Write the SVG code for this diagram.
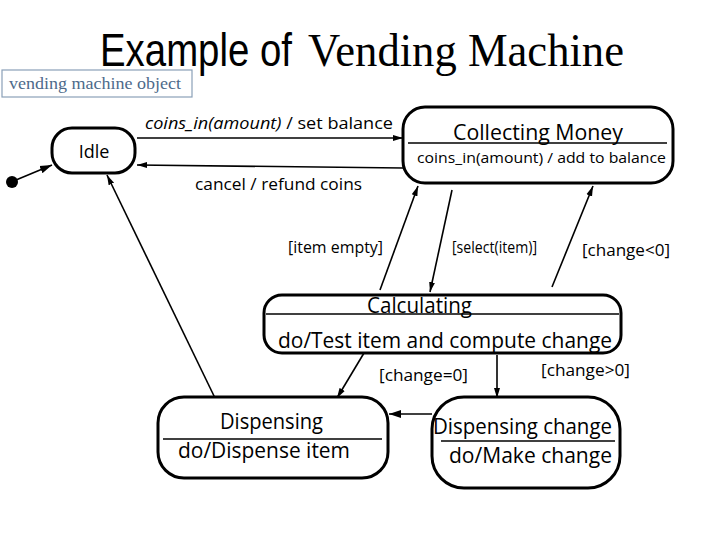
<svg xmlns="http://www.w3.org/2000/svg" width="720" height="540" viewBox="0 0 720 540">
<style>
.st{fill:#fff;stroke:#000;stroke-width:3}
.sep{stroke:#000;stroke-width:1.5}
.t{font-family:"Open Sans","Liberation Sans",sans-serif;fill:#000}
.c{stroke:#000;stroke-width:1.6;fill:none}
</style>
<defs>
<marker id="ah" markerUnits="userSpaceOnUse" markerWidth="14" markerHeight="10" refX="12" refY="5" orient="auto"><path d="M0,1 L12,5 L0,9 Z" fill="#000"/></marker>
<marker id="ahs" markerUnits="userSpaceOnUse" markerWidth="12" markerHeight="8" refX="10" refY="4" orient="auto"><path d="M0,1 L10,4 L0,7 Z" fill="#000"/></marker>
</defs>
<rect width="720" height="540" fill="#fff"/>
<text x="100" y="66" font-size="46" font-family="'Liberation Sans Narrow','Liberation Sans',sans-serif" textLength="192" lengthAdjust="spacingAndGlyphs">Example of</text>
<text x="308" y="66" font-size="46" font-family="'Liberation Serif',serif" textLength="316" lengthAdjust="spacingAndGlyphs">Vending Machine</text>
<g id="object-label">
<rect x="2" y="70" width="190" height="27" fill="#fff" stroke="#8aa0b8" stroke-width="1.2"/>
<text x="9" y="89" font-size="17" font-family="'Liberation Serif',serif" fill="#4d6a8a" textLength="172" lengthAdjust="spacingAndGlyphs">vending machine object</text>
</g>
<g id="connectors">
<line class="c" x1="16" y1="180" x2="52" y2="165" stroke-width="3" marker-end="url(#ah)"/>
<line class="c" x1="137" y1="138" x2="403" y2="138" marker-end="url(#ahs)"/>
<line class="c" x1="403" y1="168" x2="137" y2="165" marker-end="url(#ahs)"/>
<line class="c" x1="380" y1="290" x2="418" y2="186" marker-end="url(#ahs)"/>
<line class="c" x1="452" y1="190" x2="430" y2="292" marker-end="url(#ahs)"/>
<line class="c" x1="552" y1="287" x2="593" y2="186" marker-end="url(#ahs)"/>
<line class="c" x1="367" y1="348" x2="337" y2="398" marker-end="url(#ahs)"/>
<line class="c" x1="497" y1="355" x2="497" y2="398" marker-end="url(#ahs)"/>
<line class="c" x1="432" y1="414" x2="389" y2="414" stroke-width="2" marker-end="url(#ah)"/>
<line class="c" x1="215" y1="398" x2="107" y2="175" marker-end="url(#ahs)"/>
<text class="t" x="145" y="129" font-size="17" textLength="248" lengthAdjust="spacingAndGlyphs"><tspan font-style="italic">coins_in(amount)</tspan> / set balance</text>
<text class="t" x="195" y="190" font-size="17" textLength="167" lengthAdjust="spacingAndGlyphs">cancel / refund coins</text>
<text class="t" x="288" y="253" font-size="17" textLength="95" lengthAdjust="spacingAndGlyphs">[item empty]</text>
<text class="t" x="452" y="253" font-size="17" textLength="85" lengthAdjust="spacingAndGlyphs">[select(item)]</text>
<text class="t" x="582" y="256" font-size="17" textLength="88" lengthAdjust="spacingAndGlyphs">[change&lt;0]</text>
<text class="t" x="379" y="381" font-size="16" textLength="89" lengthAdjust="spacingAndGlyphs">[change=0]</text>
<text class="t" x="541" y="376" font-size="16" textLength="89" lengthAdjust="spacingAndGlyphs">[change&gt;0]</text>
</g>
<g id="initial"><circle cx="12" cy="182" r="6" fill="#000"/></g>
<g id="idle">
<rect class="st" x="52" y="128" width="83" height="45" rx="20"/>
<text class="t" x="94" y="158" font-size="18" text-anchor="middle">Idle</text>
</g>
<g id="collecting">
<rect class="st" x="403" y="107" width="270" height="76" rx="22"/>
<line class="sep" x1="408" y1="143" x2="667" y2="143"/>
<text class="t" x="453" y="140" font-size="21" textLength="170" lengthAdjust="spacingAndGlyphs">Collecting Money</text>
<text class="t" x="417" y="163" font-size="15" textLength="249" lengthAdjust="spacingAndGlyphs">coins_in(amount) / add to balance</text>
</g>
<g id="calculating">
<rect class="st" x="264" y="295" width="357" height="58" rx="18"/>
<text class="t" x="367" y="313" font-size="21" textLength="105" lengthAdjust="spacingAndGlyphs">Calculating</text>
<line class="sep" x1="266" y1="314" x2="619" y2="314"/>
<text class="t" x="278" y="348" font-size="21" textLength="334" lengthAdjust="spacingAndGlyphs">do/Test item and compute change</text>
</g>
<g id="dispensing">
<rect class="st" x="158" y="397" width="230" height="81" rx="26"/>
<line class="sep" x1="163" y1="439" x2="382" y2="439"/>
<text class="t" x="220" y="429" font-size="21" textLength="103" lengthAdjust="spacingAndGlyphs">Dispensing</text>
<text class="t" x="178" y="458" font-size="21" textLength="172" lengthAdjust="spacingAndGlyphs">do/Dispense item</text>
</g>
<g id="dispensing-change">
<rect class="st" x="432" y="397" width="188" height="91" rx="32"/>
<line class="sep" x1="441" y1="441" x2="615" y2="441"/>
<text class="t" x="433" y="434" font-size="21" textLength="179" lengthAdjust="spacingAndGlyphs">Dispensing change</text>
<text class="t" x="449" y="463" font-size="21" textLength="163" lengthAdjust="spacingAndGlyphs">do/Make change</text>
</g>
</svg>
